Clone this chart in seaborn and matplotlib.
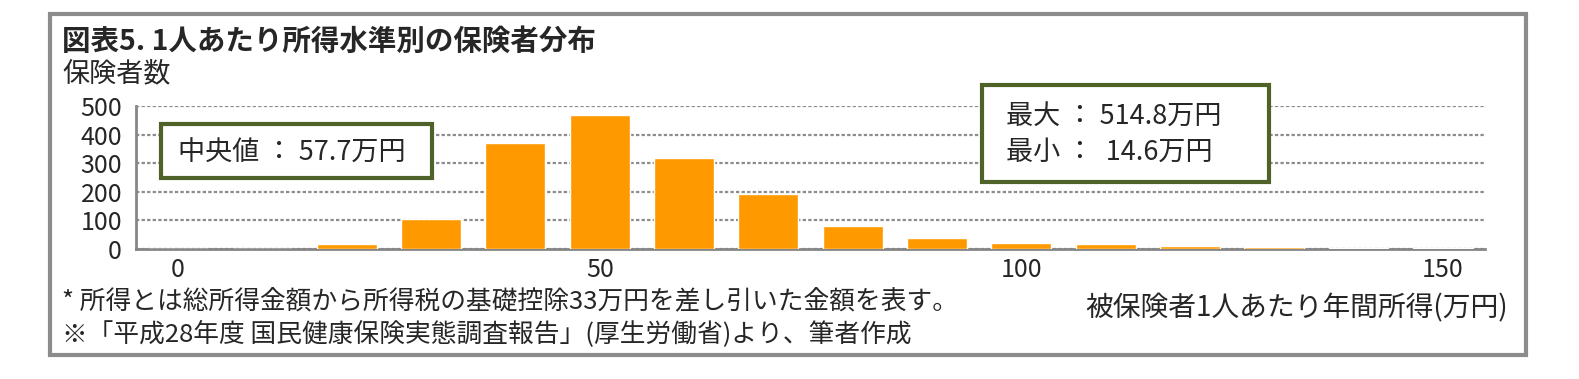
import numpy as np
import pandas as pd
import matplotlib
matplotlib.use("Agg")
import matplotlib.pyplot as plt
import seaborn as sns
from matplotlib.patches import Rectangle

# 所得階級(10万円刻み, 最後は150万円以上)と保険者数
income_bins = [0, 10, 20, 30, 40, 50, 60, 70, 80, 90, 100, 110, 120, 130, 140, 150]
insurer_counts = [0, 1, 17, 106, 372, 470, 318, 194, 82, 40, 20, 18, 10, 6, 5, 4]
tick_labels = {0: "0", 50: "50", 100: "100", 150: "150"}

title = "図表5. 1人あたり所得水準別の保険者分布"
ylabel = "保険者数"
xlabel = "被保険者1人あたり年間所得(万円)"
note1 = "* 所得とは総所得金額から所得税の基礎控除33万円を差し引いた金額を表す。"
note2 = "※「平成28年度 国民健康保険実態調査報告」(厚生労働省)より、筆者作成"
median_text = "中央値 ： 57.7万円"
max_text = "最大 ： 514.8万円"
min_text = "最小 ：  14.6万円"

sns.set_style("white")
plt.rcParams["font.family"] = ["Noto Sans CJK JP", "DejaVu Sans"]

df = pd.DataFrame({"bin": [str(b) for b in income_bins], "count": insurer_counts})

W, H = 1579, 379
fig = plt.figure(figsize=(W / 100, H / 100), dpi=100)
ax = fig.add_axes([136 / W, 1 - 249 / H, (1485 - 136) / W, (249 - 106) / H])

sns.barplot(data=df, x="bin", y="count", color="#FF9900", width=0.71,
            saturation=1, ax=ax, zorder=3)

grey = "#868686"
ax.set_xlim(-0.5, len(income_bins) - 0.5)
ax.set_ylim(0, 500)
ax.set_yticks(range(0, 501, 100))
ax.set_yticklabels([str(v) for v in range(0, 501, 100)], fontsize=18)
ax.yaxis.grid(True, linestyle=(0, (1.5, 1)), color="#8c8c8c", linewidth=1.6, zorder=0)

major_pos = [i for i, b in enumerate(income_bins) if b in tick_labels]
ax.set_xticks(major_pos)
ax.set_xticklabels([tick_labels[income_bins[i]] for i in major_pos], fontsize=18)
ax.set_xticks(np.arange(-0.5, len(income_bins), 1.0), minor=True)
ax.tick_params(axis="x", which="major", length=0, pad=6)
ax.tick_params(axis="x", which="minor", length=7, width=2, color=grey, direction="out")
ax.tick_params(axis="y", length=6, width=2, color=grey, pad=4)
ax.set_xlabel("")
ax.set_ylabel("")
for s in ["top", "right"]:
    ax.spines[s].set_visible(False)
for s in ["left", "bottom"]:
    ax.spines[s].set_color(grey)
    ax.spines[s].set_linewidth(2)
    ax.spines[s].set_zorder(2)

# 外枠
fig.patches.append(Rectangle((50 / W, 1 - 355 / H), (1526 - 50) / W, (355 - 14) / H,
                             transform=fig.transFigure, fill=False,
                             edgecolor="#8c8c8c", linewidth=3))

fig.text(62 / W, 1 - 42 / H, title, fontsize=20.5, fontweight="bold", va="center", ha="left")
fig.text(62 / W, 1 - 74 / H, ylabel, fontsize=19.5, va="center", ha="left")
fig.text(1508 / W, 1 - 308 / H, xlabel, fontsize=20, va="center", ha="right")
fig.text(62 / W, 1 - 302 / H, note1, fontsize=18.5, va="center", ha="left")
fig.text(62 / W, 1 - 334 / H, note2, fontsize=18.5, va="center", ha="left")

# 注記ボックス
green = "#4F6228"
fig.patches.append(Rectangle((161 / W, 1 - 178 / H), (432 - 161) / W, (178 - 124) / H,
                             transform=fig.transFigure, facecolor="white",
                             edgecolor=green, linewidth=3, zorder=5))
fig.text(178 / W, 1 - 153 / H, median_text, fontsize=19.5, va="center", ha="left", zorder=6)
fig.patches.append(Rectangle((982 / W, 1 - 182 / H), (1269 - 982) / W, (182 - 85) / H,
                             transform=fig.transFigure, facecolor="white",
                             edgecolor=green, linewidth=3, zorder=5))
fig.text(1006 / W, 1 - 116 / H, max_text, fontsize=19.5, va="center", ha="left", zorder=6)
fig.text(1006 / W, 1 - 152 / H, min_text, fontsize=19.5, va="center", ha="left", zorder=6)

fig.savefig("out.png", dpi=100)
